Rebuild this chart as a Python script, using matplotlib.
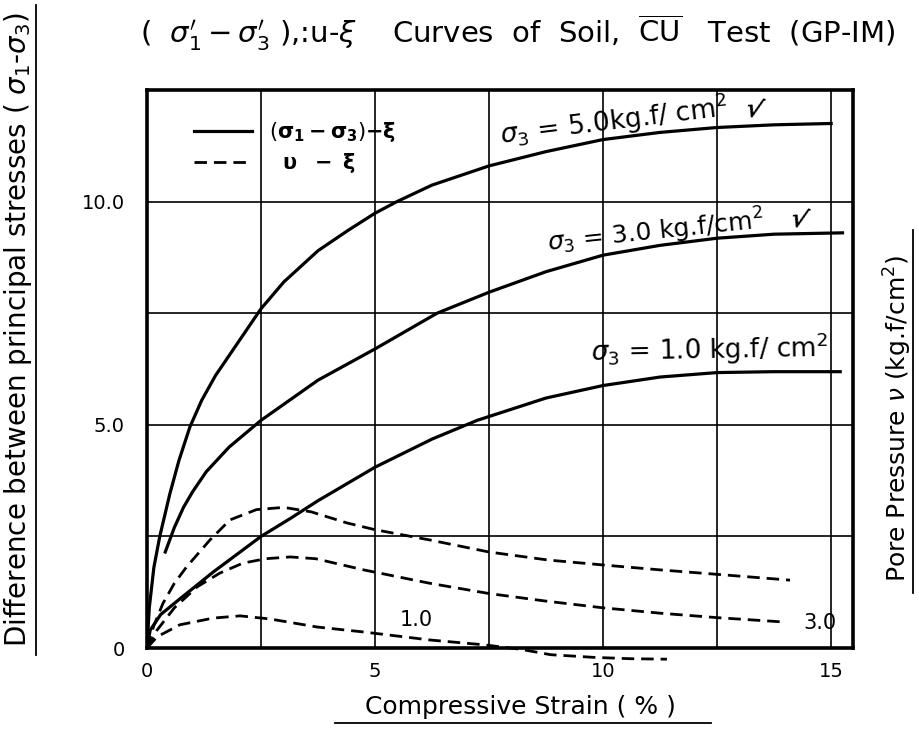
import matplotlib
matplotlib.use('Agg')
import matplotlib.pyplot as plt
from matplotlib.lines import Line2D

plt.rcParams['font.family'] = ['DejaVu Sans']
plt.rcParams['mathtext.fontset'] = 'dejavusans'

# deviator stress (sigma1 - sigma3) vs strain, one curve per cell pressure
strain_s5 = [0, 0.05, 0.15, 0.28, 0.5, 0.7, 0.94, 1.2, 1.5, 2.0, 2.5, 3.0, 3.75, 4.4,
             5.0, 5.48, 6.25, 7.5, 8.75, 10.0, 11.25, 12.5, 13.75, 15.0]
dev_s5 = [0, 0.9, 1.8, 2.5, 3.45, 4.2, 4.95, 5.55, 6.1, 6.85, 7.6, 8.2, 8.9, 9.35,
          9.74, 10.0, 10.37, 10.8, 11.12, 11.39, 11.55, 11.66, 11.72, 11.75]

strain_s3 = [0.4, 0.6, 0.8, 1.0, 1.3, 1.8, 2.5, 3.75, 5.0, 6.36, 7.5, 8.75, 10.0, 11.25,
             12.5, 13.75, 15.25]
dev_s3 = [2.15, 2.7, 3.15, 3.5, 3.95, 4.5, 5.1, 6.0, 6.7, 7.5, 7.97, 8.43, 8.8, 9.02,
          9.18, 9.27, 9.3]

strain_s1 = [0, 0.07, 0.3, 0.72, 1.45, 2.5, 3.14, 3.75, 5.0, 6.25, 7.24, 8.75, 10.0,
             11.25, 12.5, 13.75, 15.2]
dev_s1 = [0, 0.4, 0.75, 1.1, 1.7, 2.5, 2.9, 3.3, 4.05, 4.68, 5.1, 5.6, 5.88,
          6.07, 6.17, 6.19, 6.19]

# pore pressure vs strain
strain_u5 = [0, 0.15, 0.35, 0.6, 0.87, 1.38, 1.82, 2.4, 3.0, 3.6, 4.39, 5.0, 6.2, 7.5,
             8.8, 10.0, 11.25, 12.5, 14.1]
pore_u5 = [0, 0.5, 1.0, 1.45, 1.82, 2.42, 2.87, 3.1, 3.15, 3.05, 2.8, 2.65, 2.42, 2.15,
           1.97, 1.86, 1.75, 1.65, 1.52]

strain_u3 = [0, 0.22, 0.6, 1.1, 1.6, 2.1, 2.6, 3.14, 3.7, 4.75, 6.2, 7.5, 8.75, 10.0,
             11.25, 12.5, 14.0]
pore_u3 = [0, 0.4, 0.9, 1.37, 1.68, 1.9, 2.0, 2.04, 2.0, 1.75, 1.45, 1.22, 1.05, 0.9,
           0.78, 0.68, 0.58]

strain_u1 = [0, 0.22, 0.72, 1.45, 2.04, 2.7, 3.73, 4.74, 6.2, 7.4, 8.2, 8.85, 9.8,
             10.6, 11.4]
pore_u1 = [0, 0.25, 0.52, 0.67, 0.72, 0.65, 0.47, 0.36, 0.18, 0.07, -0.03, -0.15, -0.21,
           -0.24, -0.25]

x_ticks = [0, 2.5, 5, 7.5, 10, 12.5, 15]
x_labels = ['0', '', '5', '', '10', '', '15']
y_ticks = [0, 2.5, 5, 7.5, 10]
y_labels = ['0', '', '5.0', '', '10.0']

W, H = 919, 740
fig = plt.figure(figsize=(W / 100, H / 100), dpi=100)
ax = fig.add_axes([147/W, 92/H, 706/W, 558/H])


def ftext(x, y, s, **kw):
    # place text by pixel position measured from the top-left corner
    return fig.text(x / W, 1 - y / H, s, ha='center', va='center', **kw)


lw = 2.3
dash = (4.5, 2.5)
ax.plot(strain_s5, dev_s5, 'k-', lw=lw)
ax.plot(strain_s3, dev_s3, 'k-', lw=lw)
ax.plot(strain_s1, dev_s1, 'k-', lw=lw)
ax.plot(strain_u5, pore_u5, 'k--', lw=2.0, dashes=dash)
ax.plot(strain_u3, pore_u3, 'k--', lw=2.0, dashes=dash)
ax.plot(strain_u1, pore_u1, 'k--', lw=2.0, dashes=dash, clip_on=False)

ax.set_xlim(0, 15.48)
ax.set_ylim(0, 12.5)
ax.set_xticks(x_ticks)
ax.set_xticklabels(x_labels)
ax.set_yticks(y_ticks)
ax.set_yticklabels(y_labels)
ax.tick_params(length=0, labelsize=14)
ax.tick_params(axis='x', pad=10)
ax.tick_params(axis='y', pad=16)
ax.grid(True, color='black', lw=1.2)
for sp in ax.spines.values():
    sp.set_linewidth(2.6)

handles = [Line2D([], [], color='k', lw=lw),
           Line2D([], [], color='k', lw=2.0, ls='--', dashes=dash)]
ax.legend(handles, [r'$(\mathbf{\sigma_1-\sigma_3})\mathbf{-\xi}$', r'$\mathbf{\ \ \upsilon\ \ -\ \xi}$'],
          loc='upper left', bbox_to_anchor=(0.04, 0.98), frameon=False,
          fontsize=15, handlelength=2.8, labelspacing=0.35)

ftext(614, 121, r'$\sigma_3$ = 5.0kg.f/ cm$^2$', fontsize=19, rotation=7)
ftext(655, 232, r'$\sigma_3$ = 3.0 kg.f/cm$^2$', fontsize=18, rotation=6)
ftext(710, 350, r'$\sigma_3$ = 1.0 kg.f/ cm$^2$', fontsize=19, rotation=1)
ftext(753, 110, '\u221a', fontsize=18, fontweight='bold', rotation=-15)
ftext(798, 220, '\u221a', fontsize=18, fontweight='bold', rotation=-15)
ftext(416, 620, '1.0', fontsize=15)
ftext(820, 623, '3.0', fontsize=15)

ftext(518, 33,
      r"(  $\sigma_1^{\prime}-\sigma_3^{\prime}$ ),:u-$\xi$    Curves  of  Soil,  "
      r"$\overline{\rm CU}$   Test  (GP-IM)", fontsize=21)
ftext(18, 330, r'Difference between principal stresses ( $\sigma_1$-$\sigma_3$)',
      rotation=90, fontsize=20)
ftext(898, 418, r'Pore Pressure $\nu$ (kg.f/cm$^2$)', rotation=90, fontsize=18)
ftext(520, 707, 'Compressive Strain ( % )', fontsize=18)

# underlines of the axis captions
fig.add_artist(Line2D([36/W, 36/W], [1 - 5/H, 1 - 655/H], color='k', lw=1.3))
fig.add_artist(Line2D([913/W, 913/W], [1 - 230/H, 1 - 593/H], color='k', lw=1.3))
fig.add_artist(Line2D([335/W, 711/W], [1 - 723/H, 1 - 723/H], color='k', lw=1.3))

fig.savefig('out.png', dpi=100)
